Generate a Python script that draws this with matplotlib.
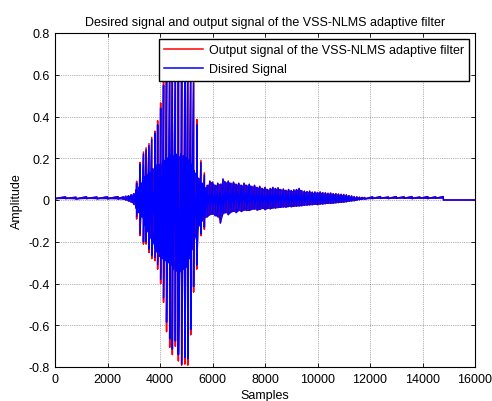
import matplotlib
matplotlib.use("Agg")
import matplotlib.pyplot as plt
import numpy as np

plt.rcParams['font.family'] = ['Liberation Sans', 'DejaVu Sans']
plt.rcParams['axes.unicode_minus'] = False

# --- signal envelope (sample index, upper / lower extent) ---
head_pos = [0, 400, 800, 1200, 1600, 2000, 2400]
head_top = [0.014, 0.015, 0.013, 0.015, 0.014, 0.015, 0.016]
head_bot = [0.006, 0.007, 0.005, 0.007, 0.006, 0.006, 0.005]

burst_pos = list(range(2600, 11900, 100))
burst_top = [0.015, 0.018, 0.02, 0.025, 0.03, 0.05, 0.06, 0.08, 0.11, 0.12,
             0.13, 0.15, 0.16, 0.17, 0.17, 0.18, 0.19, 0.20, 0.21, 0.21,
             0.22, 0.21, 0.22, 0.21, 0.20, 0.19, 0.17, 0.14, 0.12, 0.10,
             0.08, 0.06, 0.07, 0.09, 0.085, 0.07, 0.08, 0.075, 0.10, 0.085,
             0.09, 0.08, 0.085, 0.075, 0.08, 0.07, 0.08, 0.07, 0.075, 0.065,
             0.07, 0.06, 0.065, 0.055, 0.06, 0.05, 0.055, 0.06, 0.055, 0.058,
             0.05, 0.052, 0.046, 0.05, 0.045, 0.048, 0.05, 0.055, 0.044, 0.042,
             0.04, 0.042, 0.037, 0.038, 0.036, 0.038, 0.035, 0.034, 0.032, 0.033,
             0.03, 0.03, 0.028, 0.027, 0.026, 0.024, 0.021, 0.019, 0.016, 0.015,
             0.013, 0.012, 0.012]
burst_bot = [0.004, 0.0, -0.005, -0.01, -0.02, -0.04, -0.06, -0.08, -0.12, -0.15,
             -0.18, -0.20, -0.23, -0.25, -0.27, -0.28, -0.29, -0.30, -0.31, -0.33,
             -0.34, -0.35, -0.34, -0.33, -0.32, -0.28, -0.24, -0.20, -0.15, -0.12,
             -0.10, -0.085, -0.08, -0.07, -0.067, -0.075, -0.08, -0.11, -0.065, -0.06,
             -0.07, -0.058, -0.054, -0.06, -0.05, -0.055, -0.048, -0.05, -0.05, -0.045,
             -0.043, -0.048, -0.045, -0.04, -0.046, -0.04, -0.042, -0.038, -0.038, -0.036,
             -0.035, -0.033, -0.034, -0.031, -0.032, -0.03, -0.029, -0.028, -0.027, -0.025,
             -0.024, -0.023, -0.022, -0.021, -0.022, -0.019, -0.019, -0.017, -0.016, -0.016,
             -0.015, -0.013, -0.012, -0.011, -0.01, -0.008, -0.006, -0.004, -0.003, 0.0,
             0.002, 0.004, 0.005]

tail_pos = [12100, 12400, 12700, 13000, 13300, 13600, 13900, 14200, 14500, 14790,
            14800, 16000]
tail_top = [0.015, 0.016, 0.014, 0.016, 0.015, 0.016, 0.014, 0.016, 0.015, 0.016,
            0.0, 0.0]
tail_bot = [0.007, 0.008, 0.007, 0.008, 0.008, 0.007, 0.008, 0.007, 0.008, 0.008,
            0.0, 0.0]

# pitch pulses in the voiced burst (desired signal)
pulse_pos = [3110, 3240, 3370, 3470, 3580, 3685, 3810, 3910, 4025, 4135, 4250,
             4370, 4470, 4585, 4700, 4825, 4950, 5060, 5170, 5280, 5400, 5560, 5690]
pulse_top = [0.08, 0.17, 0.22, 0.24, 0.26, 0.29, 0.32, 0.36, 0.44, 0.55, 0.62,
             0.65, 0.68, 0.64, 0.69, 0.70, 0.68, 0.66, 0.62, 0.56, 0.36, 0.18, 0.12]
pulse_bot = [-0.08, -0.16, -0.20, -0.20, -0.235, -0.265, -0.275, -0.31, -0.38, -0.47, -0.585,
             -0.665, -0.715, -0.675, -0.74, -0.785, -0.755, -0.76, -0.62, -0.415, -0.31, -0.16, -0.13]
# output of the adaptive filter overshoots slightly at the pulses
out_top = [0.09, 0.18, 0.23, 0.25, 0.27, 0.30, 0.33, 0.38, 0.465, 0.57, 0.64,
           0.67, 0.70, 0.66, 0.71, 0.72, 0.70, 0.68, 0.64, 0.585, 0.385, 0.19, 0.13]
out_bot = [-0.09, -0.17, -0.21, -0.21, -0.25, -0.28, -0.29, -0.33, -0.40, -0.49, -0.63,
           -0.705, -0.74, -0.70, -0.77, -0.79, -0.785, -0.79, -0.645, -0.44, -0.33, -0.17, -0.14]

env_pos = head_pos + burst_pos + tail_pos
env_top = head_top + burst_top + tail_top
env_bot = head_bot + burst_bot + tail_bot


def zigzag(p_top, p_bot):
    """Vertical strokes at every envelope / pulse position, joined in order.
    At a pulse the stroke passes through the desired-signal tip first, so the
    joins match the blue trace and only the overshoot differs."""
    pts = sorted([(x, [t, b]) for x, t, b in zip(env_pos, env_top, env_bot)] +
                 [(x, [dt, t, b, db]) for x, dt, t, b, db in
                  zip(pulse_pos, pulse_top, p_top, p_bot, pulse_bot)])
    xs, ys = [], []
    for x, yy in pts:
        xs += [x] * len(yy)
        ys += yy
    return np.array(xs), np.array(ys)


fig = plt.figure(figsize=(4.92, 4.02), dpi=100)
ax = fig.add_axes([55 / 492, 1 - 368 / 402, 420 / 492, 334 / 402])

xr, yr = zigzag(out_top, out_bot)
xb, yb = zigzag(pulse_top, pulse_bot)
ax.plot(xr, yr, color='r', linewidth=1.1, label='Output signal of the VSS-NLMS adaptive filter')
ax.fill_between(env_pos, env_bot, env_top, color='b', linewidth=0)
ax.plot(xb, yb, color='b', linewidth=1.1, label='Disired Signal')

ax.set_xlim(0, 16000)
ax.set_ylim(-0.8, 0.8)
ax.set_xticks(np.arange(0, 16001, 2000))
ax.set_yticks(np.round(np.arange(-0.8, 0.81, 0.2), 1))
ax.set_yticklabels(['-0.8', '-0.6', '-0.4', '-0.2', '0', '0.2', '0.4', '0.6', '0.8'])
ax.tick_params(direction='in', top=True, right=True, length=3, width=0.6,
               labelsize=9, pad=4)
ax.grid(True, color='k', linestyle=':', linewidth=0.5, alpha=0.6)
for s in ax.spines.values():
    s.set_linewidth(0.8)

ax.set_title('Desired signal and output signal of the VSS-NLMS adaptive filter',
             fontsize=9, pad=6)
ax.set_xlabel('Samples', fontsize=9, labelpad=3)
ax.set_ylabel('Amplitude', fontsize=9, labelpad=4)

leg = ax.legend(loc='upper right', fontsize=9, handlelength=3.1, handletextpad=0.45,
                borderpad=0.45, labelspacing=0.55, fancybox=False, framealpha=1,
                borderaxespad=0.45)
leg.get_frame().set_edgecolor('k')
leg.get_frame().set_linewidth(1.0)

fig.savefig('out.png', dpi=100)
